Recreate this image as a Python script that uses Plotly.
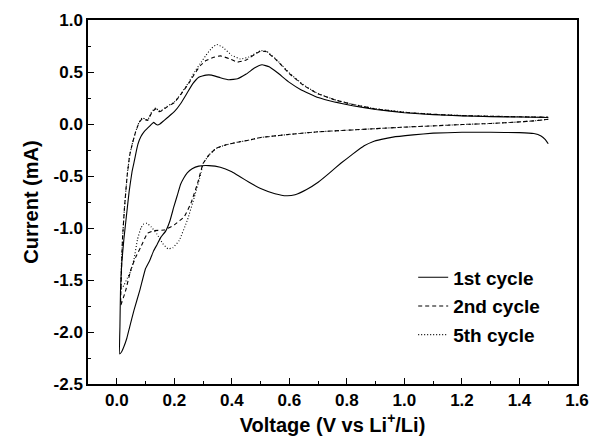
import plotly.graph_objects as go

# Cycle 1 (solid): cathodic sweep 1.5 V -> 0 V, then anodic back to 1.5 V
v1 = [1.500, 1.490, 1.475, 1.450, 1.400, 1.300, 1.200, 1.100, 1.030, 0.960, 0.920, 0.890, 0.860,
      0.820, 0.780, 0.740, 0.700, 0.660, 0.620, 0.590, 0.550, 0.500, 0.460, 0.430, 0.400, 0.360,
      0.320, 0.285, 0.262, 0.245, 0.233, 0.222, 0.210, 0.198, 0.185, 0.170, 0.153, 0.140, 0.128,
      0.115, 0.100, 0.080, 0.060, 0.045, 0.035, 0.025, 0.017, 0.010,
      0.011, 0.013, 0.017, 0.025, 0.031, 0.043, 0.053, 0.060, 0.068, 0.074, 0.084, 0.096, 0.107,
      0.118, 0.128, 0.135, 0.142, 0.150, 0.165, 0.180, 0.200, 0.223, 0.245, 0.265, 0.285, 0.310,
      0.330, 0.360, 0.390, 0.420, 0.450, 0.480, 0.505, 0.530, 0.560, 0.600, 0.640, 0.700, 0.760,
      0.820, 0.900, 1.000, 1.100, 1.200, 1.300, 1.400, 1.500]
i1 = [-0.190, -0.150, -0.115, -0.092, -0.083, -0.080, -0.080, -0.088, -0.105, -0.126, -0.148, -0.170, -0.210,
      -0.290, -0.375, -0.470, -0.560, -0.630, -0.680, -0.690, -0.670, -0.620, -0.560, -0.510, -0.460, -0.415,
      -0.400, -0.405, -0.430, -0.470, -0.520, -0.580, -0.690, -0.800, -0.930, -1.030, -1.090, -1.160, -1.220,
      -1.310, -1.390, -1.600, -1.790, -1.950, -2.060, -2.140, -2.190, -2.210,
      -1.950, -1.600, -1.350, -1.100, -0.950, -0.650, -0.460, -0.370, -0.260, -0.190, -0.120, -0.070, -0.040,
      -0.010, 0.016, 0.000, -0.010, 0.000, 0.035, 0.070, 0.118, 0.200, 0.300, 0.390, 0.450, 0.470,
      0.470, 0.445, 0.425, 0.435, 0.480, 0.540, 0.570, 0.550, 0.490, 0.400, 0.330, 0.255, 0.210,
      0.175, 0.140, 0.108, 0.090, 0.078, 0.071, 0.067, 0.063]

# Cycle 2 (dashed)
v2 = [1.500, 1.450, 1.400, 1.300, 1.200, 1.100, 1.000, 0.900, 0.800, 0.700, 0.600, 0.500, 0.460,
      0.420, 0.380, 0.345, 0.320, 0.300, 0.281, 0.258, 0.235, 0.200, 0.165, 0.130, 0.107, 0.084,
      0.066, 0.049, 0.031, 0.014,
      0.016, 0.020, 0.027, 0.036, 0.045, 0.055, 0.065, 0.078, 0.089, 0.100, 0.108, 0.118, 0.130,
      0.137, 0.145, 0.155, 0.175, 0.200, 0.223, 0.250, 0.270, 0.290, 0.310, 0.335, 0.360, 0.390,
      0.420, 0.450, 0.480, 0.500, 0.520, 0.555, 0.600, 0.650, 0.700, 0.760, 0.820, 0.900, 1.000,
      1.100, 1.200, 1.300, 1.400, 1.500]
i2 = [0.045, 0.030, 0.020, 0.005, -0.005, -0.018, -0.030, -0.045, -0.060, -0.075, -0.100, -0.130, -0.155,
      -0.175, -0.200, -0.235, -0.300, -0.380, -0.570, -0.760, -0.890, -0.970, -1.020, -1.025, -1.050, -1.180,
      -1.280, -1.400, -1.600, -1.740,
      -1.450, -1.100, -0.800, -0.500, -0.300, -0.180, -0.080, 0.015, 0.050, 0.040, 0.035, 0.090, 0.135,
      0.145, 0.120, 0.125, 0.165, 0.205, 0.285, 0.390, 0.480, 0.560, 0.610, 0.640, 0.655, 0.630,
      0.595, 0.615, 0.670, 0.700, 0.695, 0.615, 0.485, 0.370, 0.290, 0.230, 0.188, 0.145, 0.112,
      0.093, 0.081, 0.074, 0.069, 0.065]

# Cycle 5 (dotted)
v5 = [1.500, 1.450, 1.400, 1.300, 1.200, 1.100, 1.000, 0.900, 0.800, 0.700, 0.600, 0.500, 0.460,
      0.420, 0.380, 0.345, 0.320, 0.300, 0.293, 0.270, 0.246, 0.217, 0.195, 0.178, 0.160, 0.140,
      0.120, 0.105, 0.094, 0.084, 0.072, 0.060, 0.048, 0.037, 0.025, 0.015,
      0.016, 0.020, 0.027, 0.036, 0.045, 0.055, 0.065, 0.078, 0.089, 0.100, 0.108, 0.118, 0.130,
      0.137, 0.145, 0.155, 0.175, 0.200, 0.223, 0.250, 0.270, 0.290, 0.310, 0.330, 0.348, 0.370,
      0.400, 0.430, 0.460, 0.500, 0.520, 0.555, 0.600, 0.650, 0.700, 0.760, 0.820, 0.900, 1.000,
      1.100, 1.200, 1.300, 1.400, 1.500]
i5 = [0.045, 0.030, 0.020, 0.005, -0.005, -0.018, -0.030, -0.045, -0.060, -0.075, -0.100, -0.130, -0.155,
      -0.175, -0.200, -0.235, -0.300, -0.380, -0.470, -0.700, -0.920, -1.120, -1.190, -1.200, -1.150, -1.060,
      -0.990, -0.955, -0.960, -1.000, -1.110, -1.300, -1.420, -1.480, -1.550, -1.590,
      -1.350, -1.100, -0.800, -0.500, -0.300, -0.180, -0.080, 0.020, 0.060, 0.045, 0.040, 0.100, 0.145,
      0.155, 0.125, 0.130, 0.170, 0.210, 0.290, 0.400, 0.500, 0.580, 0.660, 0.730, 0.765, 0.735,
      0.660, 0.625, 0.645, 0.705, 0.700, 0.620, 0.490, 0.375, 0.292, 0.232, 0.190, 0.147, 0.114,
      0.094, 0.082, 0.075, 0.070, 0.066]

names = ["1st cycle", "2nd cycle", "5th cycle"]

x_tickvals = [0.0, 0.2, 0.4, 0.6, 0.8, 1.0, 1.2, 1.4, 1.6]
x_ticktext = ["0.0", "0.2", "0.4", "0.6", "0.8", "1.0", "1.2", "1.4", "1.6"]
y_tickvals = [-2.5, -2.0, -1.5, -1.0, -0.5, 0.0, 0.5, 1.0]
y_ticktext = ["-2.5", "-2.0", "-1.5", "-1.0", "-0.5", "0.0", "0.5", "1.0"]

fig = go.Figure()
fig.add_trace(go.Scatter(x=v1, y=i1, mode="lines", name=names[0], legendgroup="a",
                         line=dict(color="black", width=1.1, shape="spline", smoothing=0.3)))
fig.add_trace(go.Scatter(x=v2, y=i2, mode="lines", name=names[1], legendgroup="b",
                         line=dict(color="black", width=1.1, dash="4px,3px", shape="spline", smoothing=0.3)))
fig.add_trace(go.Scatter(x=v5, y=i5, mode="lines", name=names[2], legendgroup="c",
                         line=dict(color="black", width=1.1, dash="1px,2px", shape="spline", smoothing=0.3)))

font_family = "Liberation Sans, Arial, sans-serif"
axis_common = dict(showline=True, linecolor="black", linewidth=1.5, mirror=True,
                   ticks="inside", ticklen=6, tickwidth=1.3, tickcolor="black",
                   showgrid=False, zeroline=False, automargin=False,
                   tickfont=dict(family=font_family, size=17, color="black", weight="bold"))

# The page body adds an 8 px offset, so the figure is 8 px smaller than the window.
fig.update_layout(
    width=589, height=429,
    margin=dict(l=80, r=20, t=12, b=53),
    paper_bgcolor="white", plot_bgcolor="white",
    font=dict(family=font_family, color="black"),
    showlegend=True,
    legend=dict(x=0.665, y=0.345, xanchor="left", yanchor="top",
                bgcolor="rgba(0,0,0,0)", tracegroupgap=1,
                font=dict(family=font_family, size=19, color="black", weight="bold")),
    xaxis=dict(range=[-0.1, 1.6], tickmode="array", tickvals=x_tickvals, ticktext=x_ticktext,
               minor=dict(ticks="inside", ticklen=3, tickwidth=1.2, tickcolor="black", dtick=0.1, tick0=0),
               title=dict(text="Voltage (V vs Li<sup>+</sup>/Li)", standoff=0,
                          font=dict(family=font_family, size=20, color="black", weight="bold")),
               **axis_common),
    yaxis=dict(range=[-2.5, 1.0], tickmode="array", tickvals=y_tickvals, ticktext=y_ticktext,
               minor=dict(ticks="inside", ticklen=3, tickwidth=1.2, tickcolor="black", dtick=0.25, tick0=0),
               title=dict(text="Current (mA)", standoff=10,
                          font=dict(family=font_family, size=20, color="black", weight="bold")),
               **axis_common),
)

fig.write_html("out.html")
